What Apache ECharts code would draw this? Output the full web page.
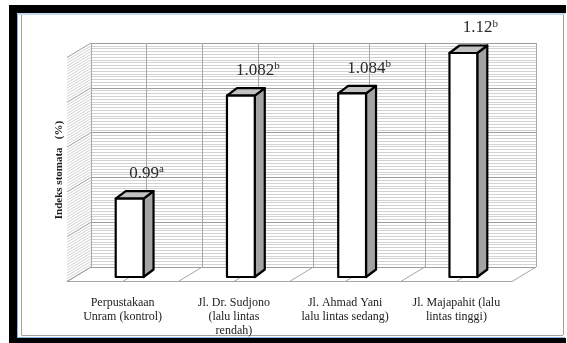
<!DOCTYPE html>
<html>
<head>
<meta charset="utf-8">
<script src="https://cdn.jsdelivr.net/npm/echarts@6/dist/echarts.min.js"></script>
<style>
  html, body { margin: 0; padding: 0; background: #fff; }
  #chart { width: 567px; height: 343px; }
</style>
</head>
<body>
<div id="chart"></div>
<script>
// Stomatal index per sampling location
const categories = [
  'Perpustakaan\nUnram (kontrol)',
  'Jl. Dr. Sudjono\n(lalu lintas\nrendah)',
  'Jl. Ahmad Yani\nlalu lintas sedang)',
  'Jl. Majapahit (lalu\nlintas tinggi)'
];
const values = [0.99, 1.082, 1.084, 1.12];
const notations = ['a', 'b', 'b', 'b'];

// Value axis ticks
const yMin = 0.92;
const yMax = 1.12;
const yStep = 0.04;
const yMinorSplit = 16;

const yTitle = 'Indeks stomata   (%)';

// 3D look: offset from back wall to front edge of floor
const DEPTH_X = -24;
const DEPTH_Y = 14.5;
// front face of the bars relative to the back wall
const FRONT_X = -17;
const FRONT_Y = 10;
// bar depth
const BAR_DX = 10;
const BAR_DY = -7.5;
const BAR_W = 0.25;

const SERIF = '"Liberation Serif", "Times New Roman", serif';

const chart = echarts.init(document.getElementById('chart'), null, { renderer: 'canvas' });

const xMin = -0.5, xMax = categories.length - 0.5;

function renderWalls(params, api) {
  const children = [];
  const minorStep = yStep / yMinorSplit;
  const n = Math.round((yMax - yMin) / minorStep);
  // side wall hatching: each horizontal grid line folded onto the left wall
  for (let k = 0; k <= n; k++) {
    const y = yMin + k * minorStep;
    const p = api.coord([xMin, y]);
    const major = k % yMinorSplit === 0;
    children.push({
      type: 'line',
      shape: { x1: p[0], y1: p[1], x2: p[0] + DEPTH_X, y2: p[1] + DEPTH_Y },
      style: { stroke: major ? '#9c9c9c' : '#d2d2d2', lineWidth: 1 },
      z2: major ? 2 : 1
    });
  }
  // floor lines running from the back wall to the front edge
  for (let x = xMin; x <= xMax + 1e-9; x += 0.5) {
    const p = api.coord([x, yMin]);
    children.push({
      type: 'line',
      shape: { x1: p[0], y1: p[1], x2: p[0] + DEPTH_X, y2: p[1] + DEPTH_Y },
      style: { stroke: '#a6a6a6', lineWidth: 1 }
    });
  }
  return { type: 'group', children };
}

function renderBar(params, api) {
  const i = api.value(0);
  const v = api.value(1);
  const top = api.coord([i, v]);
  const base = api.coord([i, yMin]);
  const unit = api.size([1, 0])[0];
  const w = unit * BAR_W;
  const cx = top[0] + FRONT_X;
  const x0 = cx - w / 2, x1 = cx + w / 2;
  const yT = top[1] + FRONT_Y;
  const yB = base[1] + FRONT_Y;
  const stroke = { stroke: '#000', lineWidth: 2.2, lineJoin: 'round' };
  return {
    type: 'group',
    children: [
      {
        type: 'polygon',
        shape: { points: [[x1, yT], [x1 + BAR_DX, yT + BAR_DY], [x1 + BAR_DX, yB + BAR_DY], [x1, yB]] },
        style: Object.assign({ fill: '#a3a3a3' }, stroke)
      },
      {
        type: 'polygon',
        shape: { points: [[x0, yT], [x0 + BAR_DX, yT + BAR_DY], [x1 + BAR_DX, yT + BAR_DY], [x1, yT]] },
        style: Object.assign({ fill: '#c2c2c2' }, stroke)
      },
      {
        type: 'rect',
        shape: { x: x0, y: yT, width: w, height: yB - yT },
        style: Object.assign({ fill: '#ffffff' }, stroke)
      },
      {
        type: 'text',
        style: {
          text: '{v|' + String(values[i]) + '}{s|' + notations[i] + '}',
          x: cx + 17,
          y: yT + BAR_DY - 8,
          align: 'center',
          verticalAlign: 'bottom',
          rich: {
            v: { fontFamily: SERIF, fontSize: 17, fill: '#2a2a2a', lineHeight: 19 },
            s: { fontFamily: SERIF, fontSize: 11, fill: '#2a2a2a', verticalAlign: 'top', lineHeight: 19 }
          }
        }
      }
    ]
  };
}

const option = {
  backgroundColor: '#ffffff',
  animation: false,
  grid: [
    { left: 91, top: 43, width: 445, height: 224 },
    { left: 91 + DEPTH_X, top: 43 + DEPTH_Y, width: 445, height: 224 }
  ],
  xAxis: [
    {
      type: 'value', gridIndex: 0, min: xMin, max: xMax, interval: 0.5,
      axisLine: { show: false }, axisTick: { show: false }, axisLabel: { show: false },
      splitLine: { show: true, lineStyle: { color: '#a8a8a8', width: 1 } }
    },
    {
      type: 'category', gridIndex: 1, data: categories, boundaryGap: true,
      axisLine: { show: true, lineStyle: { color: '#a6a6a6', width: 1 } },
      axisTick: { show: false },
      splitLine: { show: false },
      axisLabel: {
        interval: 0, margin: 14, color: '#222', fontFamily: SERIF, fontSize: 12, lineHeight: 14
      }
    }
  ],
  yAxis: [
    {
      type: 'value', gridIndex: 0, min: yMin, max: yMax, interval: yStep,
      axisLine: { show: false }, axisTick: { show: false }, axisLabel: { show: false },
      splitLine: { show: true, lineStyle: { color: '#9c9c9c', width: 1 } },
      minorTick: { show: false, splitNumber: yMinorSplit },
      minorSplitLine: { show: true, lineStyle: { color: '#d2d2d2', width: 1 } }
    },
    {
      type: 'value', gridIndex: 1, min: yMin, max: yMax, show: false,
      splitLine: { show: false }
    }
  ],
  series: [
    {
      type: 'custom', xAxisIndex: 0, yAxisIndex: 0, silent: true, z: 1,
      renderItem: renderWalls, data: [[0, yMin]]
    },
    {
      type: 'custom', xAxisIndex: 0, yAxisIndex: 0, silent: true, z: 5,
      renderItem: renderBar,
      data: values.map((v, i) => [i, v])
    }
  ],
  graphic: [
    // page frame
    { type: 'rect', shape: { x: 9, y: 5, width: 557, height: 8 }, style: { fill: '#000' }, silent: true },
    { type: 'rect', shape: { x: 9, y: 5, width: 8, height: 338 }, style: { fill: '#000' }, silent: true },
    { type: 'rect', shape: { x: 9, y: 338, width: 557, height: 5 }, style: { fill: '#000' }, silent: true },
    { type: 'line', shape: { x1: 17, y1: 14, x2: 565, y2: 14 }, style: { stroke: '#8fb3e0', lineWidth: 1 }, silent: true },
    { type: 'line', shape: { x1: 17.5, y1: 14, x2: 17.5, y2: 337 }, style: { stroke: '#8fb3e0', lineWidth: 1 }, silent: true },
    { type: 'line', shape: { x1: 17, y1: 337.5, x2: 565, y2: 337.5 }, style: { stroke: '#8fb3e0', lineWidth: 1 }, silent: true },
    { type: 'line', shape: { x1: 21.5, y1: 15, x2: 21.5, y2: 335 }, style: { stroke: '#a0a0a0', lineWidth: 1 }, silent: true },
    { type: 'line', shape: { x1: 21.5, y1: 335.5, x2: 563, y2: 335.5 }, style: { stroke: '#a0a0a0', lineWidth: 1 }, silent: true },
    { type: 'line', shape: { x1: 563.5, y1: 15, x2: 563.5, y2: 335 }, style: { stroke: '#a0a0a0', lineWidth: 1 }, silent: true },
    // value axis title
    {
      type: 'text', x: 59, y: 170, rotation: Math.PI / 2, silent: true,
      style: {
        text: yTitle, align: 'center', verticalAlign: 'middle',
        font: 'bold 11px ' + SERIF, fill: '#222'
      }
    }
  ]
};

chart.setOption(option);
</script>
</body>
</html>
